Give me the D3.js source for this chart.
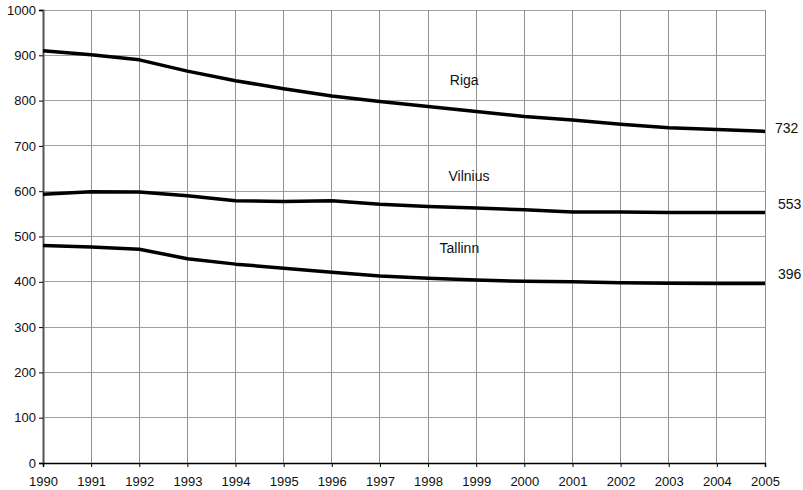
<!DOCTYPE html>
<html>
<head>
<meta charset="utf-8">
<script src="https://cdn.jsdelivr.net/npm/d3@7"></script>
<style>
  html, body { margin: 0; padding: 0; background: #fff; }
  svg { display: block; font-family: "Liberation Sans", Arial, sans-serif; }
</style>
</head>
<body>
<svg id="chart" width="803" height="490"></svg>
<script>
const years = [1990,1991,1992,1993,1994,1995,1996,1997,1998,1999,2000,2001,2002,2003,2004,2005];
const riga    = [910,901,890,865,844,826,810,798,787,776,765,757,748,740,736,732];
const vilnius = [593,599,598,590,579,577,579,571,566,563,559,554,554,553,553,553];
const tallinn = [480,477,472,451,439,430,421,413,408,404,401,400,398,397,396,396];
const seriesNames = ["Riga", "Vilnius", "Tallinn"];
const seriesValues = [riga, vilnius, tallinn];
const endLabels = ["732", "553", "396"];
const yTicks = [0,100,200,300,400,500,600,700,800,900,1000];

const svg = d3.select("#chart");
const x = d3.scaleLinear().domain([1990, 2005]).range([43, 765]);
const y = d3.scaleLinear().domain([0, 1000]).range([463, 10]);

// gridlines
svg.append("g").selectAll("line.h").data(yTicks.filter(d => d > 0)).join("line")
  .attr("x1", x(1990)).attr("x2", x(2005))
  .attr("y1", d => y(d)).attr("y2", d => y(d))
  .attr("stroke", "#a0a0a0").attr("stroke-width", 1).attr("shape-rendering", "crispEdges");
svg.append("g").selectAll("line.v").data(years.filter(d => d > 1990)).join("line")
  .attr("x1", d => x(d)).attr("x2", d => x(d))
  .attr("y1", y(0)).attr("y2", y(1000))
  .attr("stroke", "#909090").attr("stroke-width", 1).attr("shape-rendering", "crispEdges");

// axes
const yAxis = d3.axisLeft(y).tickValues(yTicks).tickSize(4).tickPadding(3).tickFormat(d3.format("d"));
const gy = svg.append("g").attr("transform", `translate(${x(1990)},0)`).call(yAxis);
gy.select(".domain").attr("stroke", "#555").attr("stroke-width", 2);
gy.selectAll(".tick line").attr("stroke", "#000");
gy.selectAll("text").attr("font-size", 13).attr("fill", "#111").attr("font-family", "Liberation Sans, Arial, sans-serif");

const xAxis = d3.axisBottom(x).tickValues(years).tickSize(4).tickPadding(10).tickFormat(d3.format("d"));
const gx = svg.append("g").attr("transform", `translate(0,${y(0)})`).call(xAxis);
gx.select(".domain").attr("stroke", "#000").attr("stroke-width", 1.5);
gx.selectAll(".tick line").attr("stroke", "#000");
gx.selectAll("text").attr("font-size", 13).attr("fill", "#111").attr("font-family", "Liberation Sans, Arial, sans-serif");

// lines
const line = d3.line().x((d, i) => x(years[i])).y(d => y(d));
svg.append("g").selectAll("path").data(seriesValues).join("path")
  .attr("d", d => line(d))
  .attr("fill", "none").attr("stroke", "#000").attr("stroke-width", 3.5)
  .attr("stroke-linejoin", "round");

// series labels (positioned in data space)
const labelPos = [[1998.75, 835], [1998.85, 622], [1998.65, 463]];
svg.append("g").selectAll("text").data(seriesNames).join("text")
  .attr("x", (d, i) => x(labelPos[i][0])).attr("y", (d, i) => y(labelPos[i][1]))
  .attr("text-anchor", "middle").attr("font-size", 14).attr("fill", "#111")
  .text(d => d);

// end labels
const endOffsets = [2, -3, -5];
svg.append("g").selectAll("text").data(endLabels).join("text")
  .attr("x", (d, i) => x(2005) + (i === 0 ? 10 : 13))
  .attr("y", (d, i) => y(seriesValues[i][seriesValues[i].length - 1]) + endOffsets[i])
  .attr("font-size", 14).attr("fill", "#111")
  .text(d => d);
</script>
</body>
</html>
